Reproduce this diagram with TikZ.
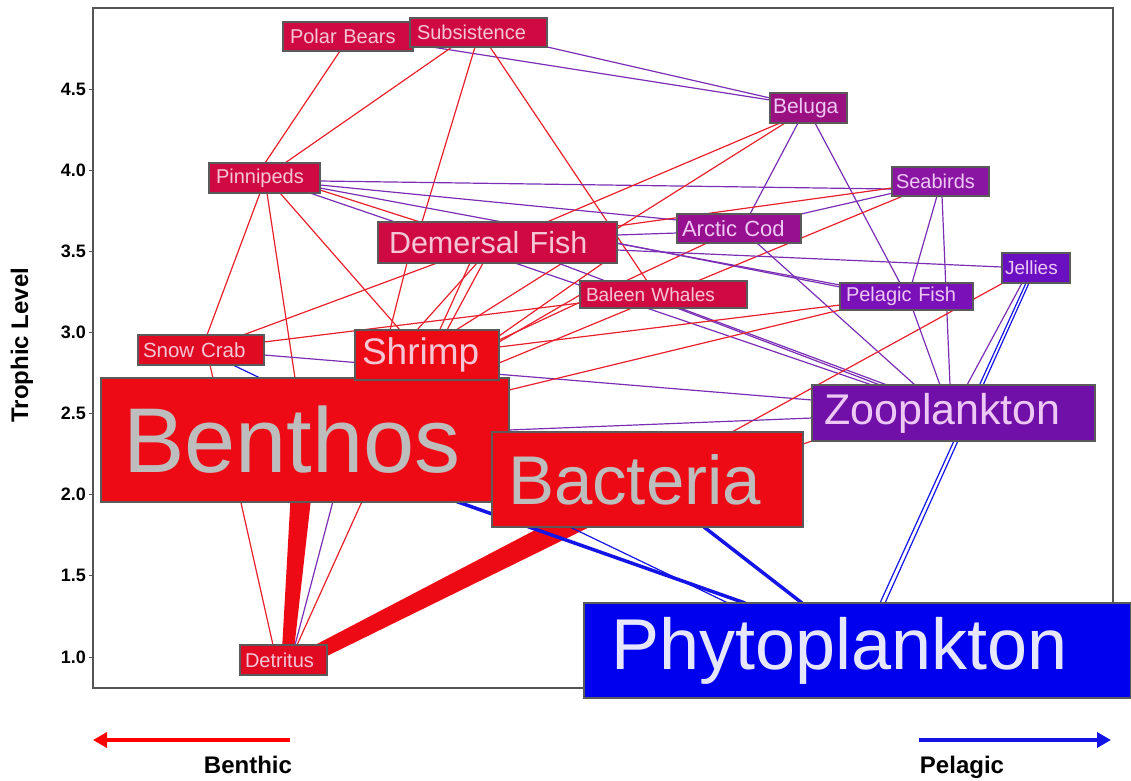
\documentclass[tikz,border=0pt]{standalone}
\usepackage{fontspec}
\setmainfont{Liberation Sans}
\usetikzlibrary{calc,arrows.meta}
\pgfdeclarelayer{bg}
\pgfsetlayers{bg,main}
\definecolor{cCrim}{HTML}{CF0A42}
\definecolor{cRed}{HTML}{EE0A14}
\definecolor{cRedB}{HTML}{E00A22}
\definecolor{cBel}{HTML}{9A1080}
\definecolor{cCod}{HTML}{961090}
\definecolor{cSea}{HTML}{8A15A2}
\definecolor{cPel}{HTML}{7A10B8}
\definecolor{cJel}{HTML}{6A0FC2}
\definecolor{cZoo}{HTML}{7010A8}
\definecolor{cPhy}{HTML}{0000EE}
\definecolor{tPink}{HTML}{F4C6D6}
\definecolor{tGray}{HTML}{BDBDBD}
\definecolor{tLav}{HTML}{EEC8F4}
\definecolor{tPhy}{HTML}{E6E6FF}
\definecolor{bordC}{HTML}{5A5A5A}
\definecolor{frameC}{HTML}{555555}
\definecolor{lRed}{HTML}{E8202C}
\definecolor{lPur}{HTML}{7A2EB4}
\definecolor{lBlu}{HTML}{1414E6}
\newcommand\fsz[1]{\fontsize{#1}{#1}\selectfont}
\newcommand\lnk[5]{\draw[#1] ($(#2.north west)+(#3)$) -- ($(#4.north west)+(#5)$);}
\begin{document}
\begin{tikzpicture}[x=1pt,y=-1pt,
  nd/.style={draw=bordC, line width=1.2pt, inner ysep=0pt, outer sep=0pt, anchor=north west, align=left},
  er/.style={draw=lRed, line width=1.2pt},
  ep/.style={draw=lPur, line width=1.2pt},
  eb/.style={draw=lBlu, line width=1.2pt},
  ebt/.style={draw=lBlu, line width=3.5pt},
  flow/.style={fill=cRed, draw=none},
  tick/.style={font=\bfseries\fsz{18}, anchor=east, inner sep=0pt},
  axl/.style={font=\bfseries\fsz{24}, inner sep=0pt}]
\useasboundingbox (0,0) rectangle (1131,780);

% nodes
\node[nd, fill=cCrim, text=tPink, font=\fsz{20}, minimum height=29pt, inner xsep=7pt, text width=116pt] (polar) at (283,22) {Polar Bears};
\node[nd, fill=cCrim, text=tPink, font=\fsz{20}, minimum height=29pt, inner xsep=7pt, text width=123pt] (subs) at (410,18) {Subsistence};
\node[nd, fill=cCrim, text=tPink, font=\fsz{20}, minimum height=30pt, inner xsep=7pt, text width=97pt] (pinn) at (209,163) {Pinnipeds};
\node[nd, fill=cBel, text=tLav, font=\fsz{21}, minimum height=30pt, inner xsep=3pt, text width=71pt] (beluga) at (770,93) {Beluga};
\node[nd, fill=cSea, text=tLav, font=\fsz{20}, minimum height=29pt, inner xsep=4pt, text width=89pt] (seab) at (892,167) {Seabirds};
\node[nd, fill=cCod, text=tLav, font=\fsz{22}, minimum height=29pt, inner xsep=5pt, text width=114pt] (acod) at (677,214) {Arctic Cod};
\node[nd, fill=cCrim, text=tPink, font=\fsz{30.5}, minimum height=41pt, inner xsep=11pt, text width=217pt] (dem) at (378,222) {Demersal Fish};
\node[nd, fill=cJel, text=tLav, font=\fsz{19}, minimum height=30pt, inner xsep=3pt, text width=62pt] (jel) at (1002,253) {Jellies};
\node[nd, fill=cCrim, text=tPink, font=\fsz{19}, minimum height=27pt, inner xsep=6pt, text width=155pt] (bal) at (580,281) {Baleen Whales};
\node[nd, fill=cPel, text=tLav, font=\fsz{20}, minimum height=27pt, inner xsep=6pt, text width=121pt] (pel) at (840,283) {Pelagic Fish};
\node[nd, fill=cRedB, text=tPink, font=\fsz{20.5}, minimum height=30pt, inner xsep=5pt, text width=116pt] (snow) at (138,335) {Snow Crab};
\node[nd, fill=cRed, text=tGray, font=\fsz{92}, minimum height=124pt, inner xsep=22pt, text width=364pt] (ben) at (101,378) {Benthos};
\node[nd, fill=cRed, text=tPink, font=\fsz{37}, minimum height=50pt, inner xsep=7pt, text width=130pt] (shr) at (355,330) {Shrimp};
\node[nd, fill=cZoo, text=tLav, font=\fsz{43}, minimum height=56pt, inner xsep=12pt, text width=259pt] (zoo) at (812,385) {Zooplankton};
\node[nd, fill=cRed, text=tGray, font=\fsz{69}, minimum height=95pt, inner xsep=16pt, text width=279pt] (bac) at (492,432) {Bacteria};
\node[nd, fill=cPhy, text=tPhy, font=\fsz{72}, minimum height=95pt, inner xsep=27pt, text width=493pt] (phy) at (584,603) {Phytoplankton};
\node[nd, fill=cRedB, text=tPink, font=\fsz{20}, minimum height=30pt, inner xsep=5pt, text width=77pt] (det) at (240,645) {Detritus};

\begin{pgfonlayer}{bg}
\draw[draw=frameC, line width=1.3pt] (93,8) rectangle (1113,688);
% thick tapered flows into Detritus
\fill[flow] ($(ben.north west)+(190,112)$) -- ($(ben.north west)+(211,112)$) -- ($(det.north west)+(54,5)$) -- ($(det.north west)+(42,5)$) -- cycle;
\fill[flow] ($(bac.north west)+(68,85)$) -- ($(bac.north west)+(118,85)$) -- ($(det.north west)+(85,12)$) -- ($(det.north west)+(75,0)$) -- cycle;
% links
\lnk{er}{polar}{57,29}{pinn}{56,0}
\lnk{ep}{polar}{117,20}{beluga}{0,7}
\lnk{ep}{subs}{133,28}{beluga}{0,5}
\lnk{er}{subs}{42,29}{pinn}{76,0}
\lnk{er}{subs}{65,29}{dem}{44,0}
\lnk{er}{subs}{80,29}{bal}{67,0}
\lnk{er}{pinn}{51,30}{snow}{69,0}
\lnk{er}{pinn}{58,30}{ben}{194,0}
\lnk{er}{pinn}{71,30}{shr}{45,0}
\lnk{er}{pinn}{111,27}{dem}{42,0}
\lnk{ep}{pinn}{111,22}{acod}{0,6}
\lnk{ep}{pinn}{111,25}{pel}{0,2}
\lnk{ep}{pinn}{101,30}{zoo}{60,0}
\lnk{ep}{pinn}{111,18}{seab}{0,22}
\lnk{er}{beluga}{10,30}{dem}{169,0}
\lnk{er}{beluga}{15,30}{shr}{101,0}
\lnk{ep}{beluga}{28,30}{acod}{73,0}
\lnk{ep}{beluga}{45,30}{pel}{60,0}
\lnk{er}{seab}{0,21}{dem}{239,4}
\lnk{ep}{seab}{1,26}{acod}{124,0}
\lnk{er}{seab}{11,29}{shr}{144,33}
\lnk{ep}{seab}{45,29}{pel}{72,0}
\lnk{ep}{seab}{50,29}{zoo}{138,0}
\lnk{ep}{acod}{80,29}{zoo}{103,0}
\lnk{er}{acod}{30,29}{shr}{144,10}
\lnk{ep}{dem}{239,13}{acod}{0,19}
\lnk{ep}{dem}{239,21}{pel}{0,4}
\lnk{ep}{dem}{239,28}{jel}{0,14}
\lnk{ep}{dem}{180,41}{zoo}{68,0}
\lnk{ep}{bal}{100,27}{zoo}{75,0}
\lnk{er}{dem}{29,41}{shr}{35,0}
\lnk{er}{dem}{99,41}{shr}{62,0}
\lnk{er}{dem}{105,41}{shr}{92,0}
\lnk{er}{snow}{105,0}{dem}{59,41}
\lnk{er}{snow}{126,7}{bal}{0,22}
\lnk{ep}{snow}{126,20}{zoo}{0,15}
\lnk{er}{snow}{72,30}{det}{33,0}
\lnk{eb}{snow}{95,30}{phy}{144,0}
\lnk{er}{dem}{92,41}{det}{57,0}
\lnk{ep}{shr}{10,50}{det}{55,0}
\lnk{ebt}{ben}{340,118}{phy}{161,0}
\lnk{ebt}{bac}{212,95}{phy}{218,0}
\lnk{eb}{jel}{24,30}{phy}{296,0}
\lnk{eb}{jel}{27,30}{phy}{301,0}
\lnk{ep}{jel}{20,30}{zoo}{155,0}
\lnk{er}{jel}{1,30}{bac}{240,0}
\lnk{ep}{pel}{73,27}{zoo}{128,0}
\lnk{ep}{ben}{408,52}{zoo}{0,33}
\lnk{er}{zoo}{0,56}{bac}{311,12}
\lnk{er}{shr}{144,12}{bal}{0,14}
\lnk{er}{shr}{144,17}{pel}{0,22}
\lnk{er}{ben}{408,12}{pel}{0,27}
\lnk{er}{shr}{144,6}{dem}{225,41}
\end{pgfonlayer}

% axis ticks and labels
\foreach \v/\yy in {4.5/89,4.0/170,3.5/251,3.0/332,2.5/413,2.0/494,1.5/575,1.0/657}{
  \draw[draw=frameC, line width=1pt] (89,\yy) -- (93,\yy);
  \node[tick] (t\v) at (86,\yy) {\v};
}
\node[axl, rotate=90] (ylab) at (22,345) {Trophic Level};

% bottom arrows
\coordinate (bA) at (290,740);
\coordinate (bB) at (93,740);
\coordinate (pA) at (919,740);
\coordinate (pB) at (1111,740);
\draw[draw=red, line width=3.5pt, -{Triangle[length=14pt,width=15pt]}] (bA) -- (bB);
\draw[draw=lBlu, line width=3.5pt, -{Triangle[length=14pt,width=15pt]}] (pA) -- (pB);
\node[axl, anchor=base] (benthic) at (248,773) {Benthic};
\node[axl, anchor=base] (pelagic) at (962,773) {Pelagic};
\end{tikzpicture}
\end{document}
